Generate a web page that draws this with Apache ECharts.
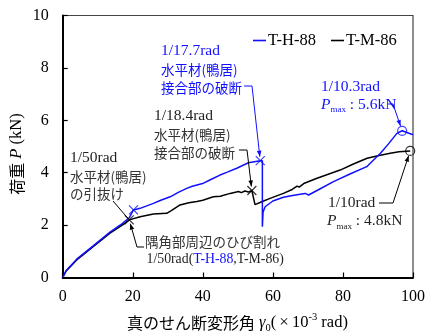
<!DOCTYPE html>
<html><head><meta charset="utf-8">
<script src="https://cdn.jsdelivr.net/npm/echarts@6/dist/echarts.min.js"></script>
<style>html,body{margin:0;padding:0;background:#fff}#c{width:437px;height:334px}</style>
</head><body><div id="c"></div>
<script>
const SERIF = '"Liberation Serif","Times New Roman",serif';
const CJK = '"Noto Sans CJK JP","Noto Sans CJK SC",sans-serif';
const BLUE = '#1010ff';
const BLACK = '#000';

// ---- data ----
const seriesNames = ['T-H-88', 'T-M-86'];
const xTH88 = [0, 1, 4, 8.7, 13.5, 17, 19, 20.2, 22.1, 25.9, 28, 30.7, 33, 35.4, 37, 40.2, 42, 44.9, 47, 49.7, 53, 56.4, 57, 57, 57.2, 57.8, 60, 63, 66, 69.2, 70.2, 73, 77.3, 82, 86.8, 87.8, 90.7, 93, 95.4, 96.9, 100];
const yTH88 = [0, 0.27, 0.7, 1.21, 1.73, 2.06, 2.28, 2.58, 2.64, 2.83, 2.95, 3.08, 3.25, 3.4, 3.48, 3.6, 3.72, 3.91, 4.02, 4.17, 4.38, 4.46, 4.46, 1.94, 2.5, 2.7, 2.92, 3.06, 3.14, 3.21, 3.15, 3.35, 3.66, 3.95, 4.23, 4.36, 4.74, 5.1, 5.5, 5.6, 5.45];
const xTM86 = [0, 1, 4, 8.7, 13.5, 17, 19, 22.1, 25.9, 29.7, 31, 33.5, 36, 38.3, 40, 43, 45, 47.8, 50.2, 51, 52, 53, 54, 54.9, 57, 59.2, 63, 65.5, 66.9, 67.5, 69, 72.6, 79.2, 83, 86.9, 90, 93.5, 96, 99.2];
const yTM86 = [0, 0.25, 0.67, 1.18, 1.69, 2.0, 2.2, 2.32, 2.42, 2.45, 2.55, 2.77, 2.85, 2.9, 2.95, 3.08, 3.1, 3.21, 3.28, 3.24, 3.3, 3.26, 3.32, 2.78, 2.9, 3.02, 3.21, 3.36, 3.49, 3.45, 3.6, 3.79, 4.1, 4.33, 4.55, 4.65, 4.74, 4.8, 4.83];
const crossTH88 = [[20.2, 2.58], [56.4, 4.46]];
const crossTM86 = [[19, 2.2], [54, 3.32]];
const maxTH88 = [[96.9, 5.6]];
const maxTM86 = [[99.2, 4.83]];
const xRange = { min: 0, max: 100, interval: 20 };
const yRange = { min: 0, max: 10, interval: 2 };

const zip = (xs, ys) => xs.map((x, i) => [x, ys[i]]);
const CROSS = 'path://M0,0L10,10M10,0L0,10';

const chart = echarts.init(document.getElementById('c'), null, { renderer: 'canvas' });

const axisCommon = {
  axisLine: { lineStyle: { color: '#000', width: 2 } },
  axisTick: { inside: true, length: 5, lineStyle: { color: '#000', width: 1.2 } },
  splitLine: { show: false },
  axisLabel: { fontFamily: SERIF, fontSize: 16, color: '#000' }
};

chart.setOption({
  animation: false,
  grid: { left: 62.7, right: 24, top: 15.5, bottom: 56.5, show: true, borderColor: '#444', borderWidth: 1.2, backgroundColor: 'transparent' },
  legend: {
    data: seriesNames, left: 248, top: 27, icon: 'rect', itemWidth: 13, itemHeight: 1.6, itemGap: 15,
    textStyle: { fontFamily: SERIF, fontSize: 16.5, color: '#000', padding: [0, 0, 0, -3] },
    selectedMode: false
  },
  xAxis: Object.assign({ type: 'value', min: xRange.min, max: xRange.max, interval: xRange.interval }, axisCommon,
    { axisLabel: Object.assign({}, axisCommon.axisLabel, { margin: 11 }) }),
  yAxis: Object.assign({ type: 'value', min: yRange.min, max: yRange.max, interval: yRange.interval }, axisCommon,
    { axisLabel: Object.assign({}, axisCommon.axisLabel, { margin: 14 }) }),
  series: [
    { name: seriesNames[0], type: 'line', data: zip(xTH88, yTH88), showSymbol: false, symbol: 'none', lineStyle: { color: BLUE, width: 1.5 }, itemStyle: { color: BLUE }, silent: true, z: 3 },
    { name: seriesNames[1], type: 'line', data: zip(xTM86, yTM86), showSymbol: false, symbol: 'none', lineStyle: { color: BLACK, width: 1.5 }, itemStyle: { color: BLACK }, silent: true, z: 2 },
    { type: 'scatter', data: crossTH88, symbol: CROSS, symbolSize: 9, itemStyle: { color: 'transparent', borderColor: BLUE, borderWidth: 1.2 }, silent: true, z: 4 },
    { type: 'scatter', data: crossTM86, symbol: CROSS, symbolSize: 9, itemStyle: { color: 'transparent', borderColor: BLACK, borderWidth: 1.2 }, silent: true, z: 4 },
    { type: 'scatter', data: maxTH88, symbol: 'circle', symbolSize: 9, itemStyle: { color: 'transparent', borderColor: BLUE, borderWidth: 1.2 }, silent: true, z: 4 },
    { type: 'scatter', data: maxTM86, symbol: 'circle', symbolSize: 9, itemStyle: { color: 'transparent', borderColor: BLACK, borderWidth: 1.2 }, silent: true, z: 4 }
  ]
});

function richFor(color) {
  return {
    n: { fontFamily: SERIF, fontSize: 15.5, fill: color, lineHeight: 20 },
    m: { fontFamily: SERIF, fontSize: 13.8, fill: color, lineHeight: 20 },
    b: { fontFamily: SERIF, fontSize: 13.8, fill: BLUE, lineHeight: 20 },
    j: { fontFamily: CJK, fontSize: 13.5, fill: color, lineHeight: 20 },
    i: { fontFamily: SERIF, fontSize: 15.5, fontStyle: 'italic', fill: color, lineHeight: 20 },
    s: { fontFamily: SERIF, fontSize: 9, fill: color, lineHeight: 10, verticalAlign: 'bottom' }
  };
}
function txt(x, y, text, color) {
  return { type: 'text', x: x, y: y, z: 10, silent: true, style: { text: text, fill: color, rich: richFor(color), align: 'left', verticalAlign: 'middle' } };
}
function px(p) { return chart.convertToPixel({ xAxisIndex: 0, yAxisIndex: 0 }, p); }
function leader(points, target, r, color, head) {
  const tp = px(target);
  const prev = points[points.length - 1];
  let dx = tp[0] - prev[0], dy = tp[1] - prev[1];
  const L = Math.hypot(dx, dy); dx /= L; dy /= L;
  const tip = [tp[0] - dx * r, tp[1] - dy * r];
  const pts = points.concat([tip]);
  const els = [{ type: 'polyline', z: 9, silent: true, shape: { points: pts }, style: { stroke: color, lineWidth: 1, fill: null } }];
  if (head) {
    const hl = 6, hw = 2.3;
    const bx = tip[0] - dx * hl, by = tip[1] - dy * hl;
    els.push({ type: 'polygon', z: 9, silent: true, shape: { points: [tip, [bx - dy * hw, by + dx * hw], [bx + dy * hw, by - dx * hw]] }, style: { fill: color } });
  }
  return els;
}

const els = [];
const DARK = '#222', GREY = '#333';
// blue 1/17.7rad
els.push(txt(161, 51, '{n|1/17.7rad}', BLUE));
els.push(txt(161, 69.5, '{j|水平材(鴨居)}', BLUE));
els.push(txt(161, 88, '{j|接合部の破断}', BLUE));
els.push(...leader([[244, 86], [252, 86]], crossTH88[1], 4, BLUE, true));
// black 1/18.4rad
els.push(txt(154, 116, '{n|1/18.4rad}', DARK));
els.push(txt(154, 134.5, '{j|水平材(鴨居)}', GREY));
els.push(txt(154, 152.5, '{j|接合部の破断}', GREY));
els.push(...leader([[239, 150], [247, 150]], crossTM86[1], 4, BLACK, true));
// 1/50rad pull-out
els.push(txt(70, 158, '{n|1/50rad}', DARK));
els.push(txt(70, 176.5, '{j|水平材(鴨居)}', GREY));
els.push(txt(70, 194, '{j|の引抜け}', GREY));
els.push(...leader([[113, 201]], crossTM86[0], 1, BLACK, false));
// corner crack
els.push(txt(145, 241.5, '{j|隅角部周辺のひび割れ}', GREY));
els.push(txt(146.5, 259.5, '{m|1/50rad(}{b|T-H-88}{m|,T-M-86)}', DARK));
els.push(...leader([[144, 247], [137, 247]], crossTM86[0], 4, BLACK, true));
// blue Pmax
els.push(txt(321, 87, '{n|1/10.3rad}', BLUE));
els.push(txt(321, 104.5, '{i|P}{s|max}{n| : 5.6kN}', BLUE));
els.push(...leader([[388, 104], [393, 104]], maxTH88[0], 5, BLUE, true));
// black Pmax
els.push(txt(328, 203, '{n|1/10rad}', DARK));
els.push(txt(327, 221, '{i|P}{s|max}{n| : 4.8kN}', DARK));
els.push(...leader([[379, 203], [393, 203]], maxTM86[0], 5, BLACK, true));

// axis titles
const axRich = {
  j: { fontFamily: CJK, fontSize: 16, fill: '#000', lineHeight: 22 },
  n: { fontFamily: SERIF, fontSize: 16.5, fill: '#000', lineHeight: 22 },
  x: { fontFamily: SERIF, fontSize: 17, fill: '#000', lineHeight: 22, padding: [0, 3, 0, 3] },
  i: { fontFamily: SERIF, fontSize: 16.5, fontStyle: 'italic', fill: '#000', lineHeight: 22, padding: [0, 0, 0, 4] },
  s: { fontFamily: SERIF, fontSize: 10.5, fill: '#000', lineHeight: 11, verticalAlign: 'bottom' },
  u: { fontFamily: SERIF, fontSize: 10.5, fill: '#000', lineHeight: 11, verticalAlign: 'top' }
};
els.push({ type: 'text', x: 237.5, y: 323, z: 10, silent: true,
  style: { text: '{j|真のせん断変形角}{i|γ}{s|0}{n|(}{x|×}{n|10}{u|-3}{n| rad)}', fill: '#000', rich: axRich, align: 'center', verticalAlign: 'middle' } });
els.push({ type: 'text', x: 17, y: 154, rotation: Math.PI / 2, z: 10, silent: true,
  style: { text: '{j|荷重}{i|P}{n| (kN)}', fill: '#000', rich: axRich, align: 'center', verticalAlign: 'middle' } });

chart.setOption({ graphic: { elements: els } });
</script></body></html>
